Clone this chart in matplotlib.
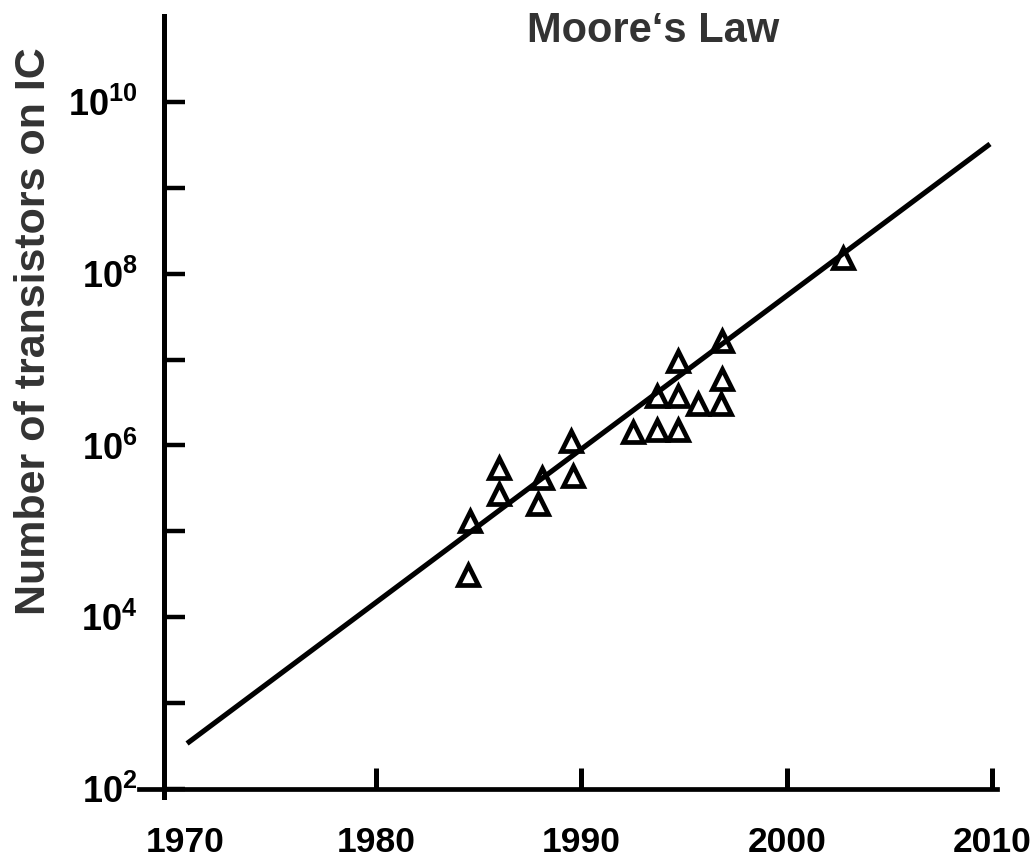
import numpy as np
import matplotlib
matplotlib.use("Agg")
import matplotlib.pyplot as plt
import matplotlib.transforms as mtransforms
from matplotlib.ticker import FixedLocator, FuncFormatter, NullLocator

plt.rcParams['font.family'] = ['Liberation Sans', 'DejaVu Sans']
plt.rcParams['font.weight'] = 'bold'
plt.rcParams['mathtext.fontset'] = 'custom'
plt.rcParams['mathtext.rm'] = 'Liberation Sans:bold'
plt.rcParams['mathtext.it'] = 'Liberation Sans:bold'
plt.rcParams['mathtext.bf'] = 'Liberation Sans:bold'

# ---- data ----
chip_years = [1984.5, 1984.6, 1986.0, 1986.0, 1988.1, 1987.9, 1989.5, 1989.6,
              1992.5, 1993.7, 1993.7, 1994.7, 1994.7, 1994.7, 1995.7, 1996.8,
              1996.85, 1996.85, 2002.75]
chip_log_transistors = [4.49, 5.12, 5.74, 5.44, 5.62, 5.32, 6.05, 5.65,
                        6.16, 6.58, 6.18, 6.98, 6.58, 6.18, 6.48, 6.48,
                        6.77, 7.22, 8.18]
trend_years = [1970.8, 2009.9]
trend_log_transistors = [2.53, 9.51]
year_ticks = [1970, 1980, 1990, 2000, 2010]
decade_exponents = [2, 3, 4, 5, 6, 7, 8, 9, 10]
labelled_exponents = [2, 4, 6, 8, 10]

chip_counts = [10 ** v for v in chip_log_transistors]
trend_counts = [10 ** v for v in trend_log_transistors]

W, H = 1035, 858
fig = plt.figure(figsize=(W / 100, H / 100), dpi=100)
ax = fig.add_axes([139 / W, 69 / H, (997 - 139) / W, (842 - 69) / H])
ax.set_yscale('log')
ax.set_xlim(1968.46, 2010.24)
ax.set_ylim(1e2, 1e11)

ax.plot(trend_years, trend_counts, color='black', lw=3.7,
        solid_capstyle='butt', zorder=3)
ax.plot(chip_years, chip_counts, linestyle='none', marker='^', ms=15,
        mfc='none', mec='black', mew=3.4, zorder=4)

# spines
for s in ['top', 'right']:
    ax.spines[s].set_visible(False)
ax.spines['left'].set_position(('data', 1969.67))
ax.spines['left'].set_bounds(10 ** 1.907, 1e11)
ax.spines['left'].set_linewidth(3.6)
ax.spines['bottom'].set_linewidth(3.4)
ax.spines['left'].set_clip_on(False)

# ticks
ax.xaxis.set_major_locator(FixedLocator(year_ticks))
ax.set_xticklabels([str(y) for y in year_ticks])
ax.tick_params(axis='x', direction='in', length=15, width=3.6, pad=27,
               labelsize=25.5, top=False)
ax.xaxis.get_major_ticks()[0].tick1line.set_visible(False)

ax.yaxis.set_major_locator(FixedLocator([10.0 ** e for e in decade_exponents]))
ax.yaxis.set_minor_locator(NullLocator())


def fmt(v, pos):
    e = int(round(np.log10(v)))
    return r'$10^{%d}$' % e if e in labelled_exponents else ''


ax.yaxis.set_major_formatter(FuncFormatter(fmt))
ax.tick_params(axis='y', direction='in', length=15, width=3.2, pad=19,
               labelsize=26, right=False)
for lbl in ax.get_xticklabels():
    lbl.set_fontweight('bold')

# the 1970 label sits a little to the right of the axis corner
first = ax.xaxis.get_major_ticks()[0].label1
first.set_transform(first.get_transform() +
                    mtransforms.ScaledTranslation(15 / 100, 0, fig.dpi_scale_trans))

fig.text(653 / W, 1 - 42 / H, 'Moore\u2018s Law', ha='center', va='baseline',
         fontsize=30, fontweight='bold', color='#333333')
fig.text(34 / W, 1 - 331 / H, 'Number of transistors on IC', ha='center',
         va='center', rotation=90, fontsize=31, fontweight='bold',
         color='#333333')

fig.savefig('out.png', dpi=100)
